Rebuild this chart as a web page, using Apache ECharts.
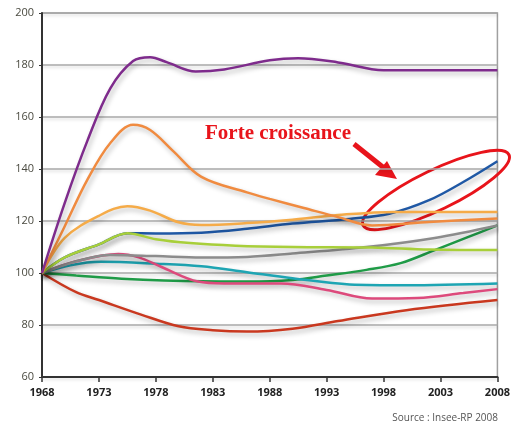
<!DOCTYPE html>
<html>
<head>
<meta charset="utf-8">
<script src="https://cdn.jsdelivr.net/npm/echarts@6/dist/echarts.min.js"></script>
<style>
  html, body { margin: 0; padding: 0; background: #fff; }
  #chart { width: 513px; height: 429px; }
</style>
</head>
<body>
<div id="chart"></div>
<script>
// years are stored as real years, the axis runs on offsets from the first one
const startYear = 1968
const endYear = 2008
const yTicks = [60, 80, 100, 120, 140, 160, 180, 200]

const purple = [[1968, 100], [1970, 127], [1972, 151], [1974, 171], [1976, 181.5], [1977.5, 183], [1979, 181], [1981.5, 177.5], [1984, 178.3], [1988, 181.8], [1990.5, 182.6], [1994, 181], [1998, 178], [2003, 178], [2008, 178]]
const orange = [[1968, 100], [1970, 118], [1972, 136], [1974, 150], [1976, 157], [1977.5, 155], [1979.5, 147], [1982, 137], [1986, 131], [1988, 128.5], [1991, 125], [1994, 121.5], [1997, 118.3], [2002, 119.6], [2008, 121]]
const lightOrange = [[1968, 100], [1970, 113.5], [1973, 122], [1975.5, 125.7], [1977.5, 124], [1980, 119.5], [1982, 118.5], [1986, 119.2], [1990, 120.5], [1994, 122.3], [1999, 123.5], [2008, 123.5]]
const blue = [[1968, 100], [1970, 106], [1973, 111], [1975.5, 115.3], [1978, 115.2], [1982, 115.5], [1986, 117], [1990, 119], [1995, 120.8], [1998.5, 122.8], [2002, 128], [2005, 135], [2008, 143]]
const yellowGreen = [[1968, 100], [1970, 106], [1973, 111], [1975.5, 115.3], [1978, 113], [1981, 111.5], [1985, 110.5], [1990, 110], [1997, 109.8], [2002, 109], [2008, 108.8]]
const gray = [[1968, 100], [1971, 104.5], [1974, 106.9], [1978, 106.5], [1982, 106], [1986, 106.2], [1990, 107.5], [1996.5, 110], [2002.5, 113.5], [2008, 118.3]]
const pink = [[1968, 100], [1971, 104.5], [1974.7, 107.3], [1976.5, 106], [1978.5, 102.3], [1981.7, 96.7], [1984, 96], [1989, 96], [1993, 93.5], [1997, 90.2], [2001, 90.4], [2005, 92.3], [2008, 93.8]]
const teal = [[1968, 100], [1970.5, 103], [1973.2, 104.3], [1978, 103.6], [1982, 102.6], [1986, 100.3], [1990, 98], [1995, 95.6], [2000, 95.3], [2008, 96]]
const green = [[1968, 100], [1971, 99], [1975, 97.8], [1982, 96.8], [1986, 96.7], [1990, 97.3], [1993, 99], [1996.5, 101.2], [1999.5, 103.8], [2002.5, 108.8], [2005.4, 113.8], [2008, 118.3]]
const red = [[1968, 100], [1971, 92.6], [1973, 89.6], [1976.7, 84], [1980, 79.5], [1983, 78], [1986, 77.5], [1990, 78.6], [1994, 81.5], [2000, 85.7], [2008, 89.6]]

// later entries are painted on top
const seriesList = [
  { data: red, color: '#c9381f' },
  { data: green, color: '#1f9b47' },
  { data: teal, color: '#1ea5b3' },
  { data: pink, color: '#dd4a7c' },
  { data: gray, color: '#8c8c8c' },
  { data: blue, color: '#1f58a5' },
  { data: yellowGreen, color: '#a8cf3a' },
  { data: lightOrange, color: '#f5ab48' },
  { data: orange, color: '#f08b40' },
  { data: purple, color: '#7e2b8c' },
]

const toOffset = (pts) => pts.map(([yr, v]) => [yr - startYear, v])

const chart = echarts.init(document.getElementById('chart'), null, { renderer: 'canvas' })

chart.setOption({
  animation: false,
  backgroundColor: '#fff',
  grid: {
    left: 42,
    right: 13,
    top: 13,
    bottom: 52,
    show: true,
    borderColor: '#a0a0a0',
    borderWidth: 1.5,
  },
  xAxis: {
    type: 'value',
    min: 0,
    max: endYear - startYear,
    interval: 5,
    axisLine: { show: true, lineStyle: { color: '#333', width: 2 } },
    axisTick: { show: true, length: 5, lineStyle: { color: '#333', width: 1.5 } },
    axisLabel: {
      margin: 10,
      color: '#222',
      fontSize: 11,
      fontWeight: 'bold',
      fontFamily: 'Open Sans',
      formatter: (v) => String(v + startYear),
    },
    splitLine: { show: false },
  },
  yAxis: {
    type: 'value',
    min: yTicks[0],
    max: yTicks[yTicks.length - 1],
    interval: 20,
    axisLine: { show: true, lineStyle: { color: '#333', width: 2 } },
    axisTick: { show: true, length: 3, lineStyle: { color: '#333' } },
    axisLabel: {
      margin: 8,
      color: '#4a4a40',
      fontSize: 11,
      fontFamily: 'Open Sans',
    },
    splitLine: {
      show: true,
      lineStyle: {
        color: '#a8a8a8',
        width: 1.5,
        shadowColor: 'rgba(0,0,0,0.15)',
        shadowBlur: 3,
        shadowOffsetY: 2,
      },
    },
  },
  series: seriesList.map((s) => ({
    type: 'line',
    data: toOffset(s.data),
    smooth: 0.35,
    showSymbol: false,
    color: s.color,
    lineStyle: {
      width: 2.5,
      color: s.color,
      shadowColor: 'rgba(0,0,0,0.28)',
      shadowBlur: 5,
      shadowOffsetX: 2,
      shadowOffsetY: 3,
    },
  })),
  graphic: [
    {
      type: 'text',
      left: 205,
      top: 123,
      style: {
        text: 'Forte croissance',
        fill: '#e8141b',
        font: 'bold 21px "Liberation Serif", serif',
      },
    },
    {
      type: 'line',
      shape: { x1: 354, y1: 144, x2: 384, y2: 168 },
      style: { stroke: '#e8141b', lineWidth: 5 },
    },
    {
      type: 'polygon',
      shape: { points: [[397, 179], [375, 175], [387, 161]] },
      style: { fill: '#e8141b' },
    },
    {
      type: 'ellipse',
      x: 436,
      y: 190,
      rotation: 0.45,
      shape: { cx: 0, cy: 0, rx: 81, ry: 20 },
      style: { fill: 'none', stroke: '#e8141b', lineWidth: 3 },
    },
    {
      type: 'text',
      right: 15,
      top: 413,
      style: {
        text: 'Source : Insee-RP 2008',
        fill: '#555',
        font: '10px "Open Sans", sans-serif',
      },
    },
  ],
})
</script>
</body>
</html>
